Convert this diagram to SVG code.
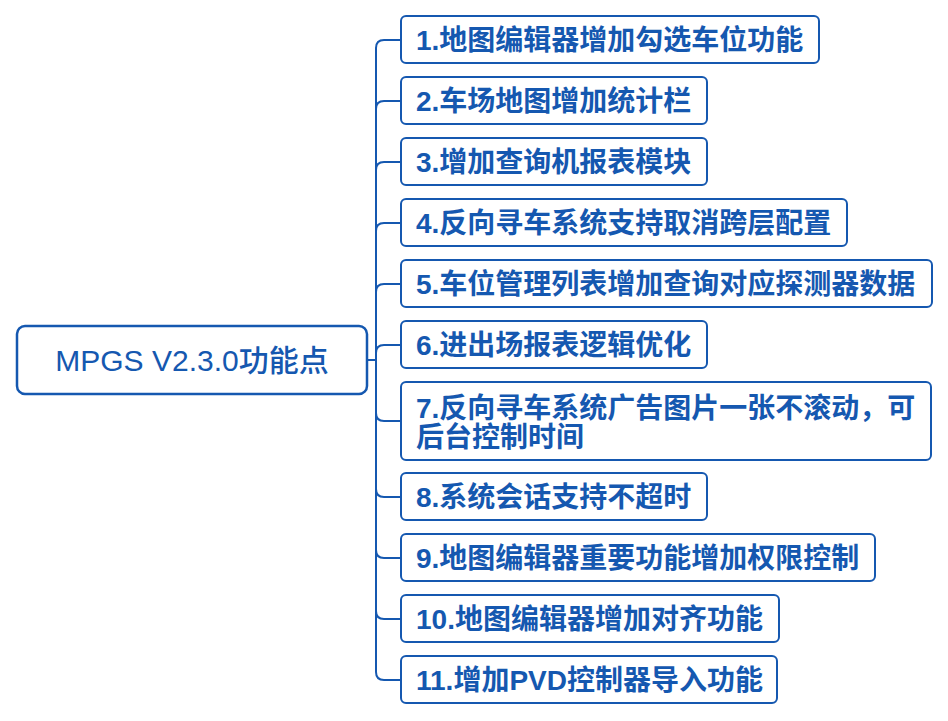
<svg xmlns="http://www.w3.org/2000/svg" width="948" height="721" viewBox="0 0 948 721">
<style>
.box{fill:#fff;stroke:#1558b0;stroke-width:2}
.root{fill:#fff;stroke:#1558b0;stroke-width:2.5}
.t{fill:#1558b0;font-family:"Liberation Sans","Noto Sans CJK SC",sans-serif;font-size:28px;font-weight:bold}
.rt{fill:#1558b0;font-family:"Liberation Sans","Noto Sans CJK SC",sans-serif;font-size:30px;text-anchor:middle;font-weight:500}
.c{fill:none;stroke:#1558b0;stroke-width:2}
</style>
<rect width="948" height="721" fill="#fff"/>
<g id="connectors">
<path class="c" d="M367,360 H376"/>
<path class="c" d="M376,360 V48 Q376,40 384,40 H401"/>
<path class="c" d="M376,360 V109 Q376,101 384,101 H401"/>
<path class="c" d="M376,360 V170 Q376,162 384,162 H401"/>
<path class="c" d="M376,360 V231 Q376,223 384,223 H401"/>
<path class="c" d="M376,360 V292 Q376,284 384,284 H401"/>
<path class="c" d="M376,360 V353 Q376,345 384,345 H401"/>
<path class="c" d="M376,360 V413 Q376,421 384,421 H401"/>
<path class="c" d="M376,360 V489 Q376,497 384,497 H401"/>
<path class="c" d="M376,360 V550 Q376,558 384,558 H401"/>
<path class="c" d="M376,360 V611 Q376,619 384,619 H401"/>
<path class="c" d="M376,360 V672 Q376,680 384,680 H401"/>
</g>
<g id="root"><rect class="root" x="17" y="326" width="350" height="68" rx="8"/><text class="rt" x="192" y="371">MPGS V2.3.0功能点</text></g>
<g id="n1"><rect class="box" x="401" y="16" width="418" height="47" rx="5"/><text class="t" x="416" y="50">1.地图编辑器增加勾选车位功能</text></g>
<g id="n2"><rect class="box" x="401" y="77" width="306" height="47" rx="5"/><text class="t" x="416" y="111">2.车场地图增加统计栏</text></g>
<g id="n3"><rect class="box" x="401" y="138" width="306" height="47" rx="5"/><text class="t" x="416" y="172">3.增加查询机报表模块</text></g>
<g id="n4"><rect class="box" x="401" y="199" width="446" height="47" rx="5"/><text class="t" x="416" y="233">4.反向寻车系统支持取消跨层配置</text></g>
<g id="n5"><rect class="box" x="401" y="260" width="531" height="47" rx="5"/><text class="t" x="416" y="294">5.车位管理列表增加查询对应探测器数据</text></g>
<g id="n6"><rect class="box" x="401" y="321" width="306" height="47" rx="5"/><text class="t" x="416" y="355">6.进出场报表逻辑优化</text></g>
<g id="n7"><rect class="box" x="401" y="382" width="530" height="78" rx="5"/><text class="t" x="416" y="418">7.反向寻车系统广告图片一张不滚动，可</text><text class="t" x="416" y="447">后台控制时间</text></g>
<g id="n8"><rect class="box" x="401" y="473" width="306" height="47" rx="5"/><text class="t" x="416" y="507">8.系统会话支持不超时</text></g>
<g id="n9"><rect class="box" x="401" y="534" width="474" height="47" rx="5"/><text class="t" x="416" y="568">9.地图编辑器重要功能增加权限控制</text></g>
<g id="n10"><rect class="box" x="401" y="595" width="378" height="47" rx="5"/><text class="t" x="416" y="629">10.地图编辑器增加对齐功能</text></g>
<g id="n11"><rect class="box" x="401" y="656" width="376" height="47" rx="5"/><text class="t" x="416" y="690">11.增加PVD控制器导入功能</text></g>
</svg>
